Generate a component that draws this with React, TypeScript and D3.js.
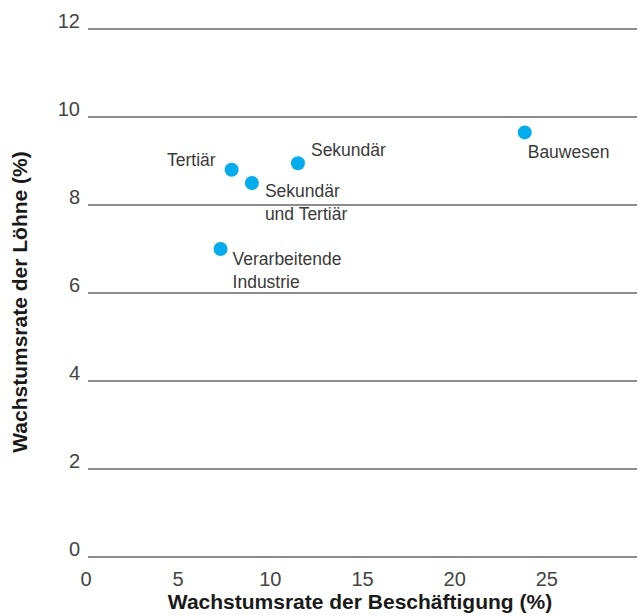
import React from "react";
import * as d3 from "d3";

const width = 640;
const height = 615;

const sectors = ["Tertiär", "Sekundär und Tertiär", "Sekundär", "Verarbeitende Industrie", "Bauwesen"];
const employmentGrowth = [7.9, 9.0, 11.5, 7.3, 23.8];
const wageGrowth = [8.8, 8.5, 8.95, 7.0, 9.65];
const yTicks = [0, 2, 4, 6, 8, 10, 12];
const xTicks = [0, 5, 10, 15, 20, 25];

// label placement relative to each point: [dx, dy, anchor]
const labelLines: string[][] = [["Tertiär"], ["Sekundär", "und Tertiär"], ["Sekundär"], ["Verarbeitende", "Industrie"], ["Bauwesen"]];
const labelPos: [number, number, string][] = [
  [-16, -4, "end"],
  [13, 14, "start"],
  [13, -7, "start"],
  [12, 16, "start"],
  [3, 26, "start"],
];

const font = "'Liberation Sans', Arial, Helvetica, sans-serif";

export default function App() {
  const x = d3.scaleLinear().domain([0, 30]).range([86, 639]);
  const y = d3.scaleLinear().domain([0, 12]).range([557, 29]);

  return (
    <svg width={width} height={height} style={{ position: "absolute", left: 0, top: 0 }} fontFamily={font}>
      <rect width={width} height={height} fill="#fff" />
      {yTicks.map((t) => (
        <g key={t}>
          <line x1={88} x2={637} y1={y(t)} y2={y(t)} stroke="#1a1a1a" strokeWidth={1} />
          <text x={80} y={y(t) - 1} textAnchor="end" fontSize={20} fill="#444">{t}</text>
        </g>
      ))}
      {xTicks.map((t) => (
        <text key={t} x={x(t)} y={586} textAnchor="middle" fontSize={20} fill="#444">{t}</text>
      ))}
      {sectors.map((s, i) => {
        const cx = x(employmentGrowth[i]);
        const cy = y(wageGrowth[i]);
        const [dx, dy, anchor] = labelPos[i];
        return (
          <g key={s}>
            <circle cx={cx} cy={cy} r={7} fill="#00aeef" />
            <text x={cx + dx} y={cy + dy} textAnchor={anchor as any} fontSize={17.5} fill="#3a3a3a">
              {labelLines[i].map((l, j) => (
                <tspan key={j} x={cx + dx} dy={j === 0 ? 0 : 23}>{l}</tspan>
              ))}
            </text>
          </g>
        );
      })}
      <text x={360} y={609} textAnchor="middle" fontSize={21} fontWeight="bold" fill="#1a1a1a">
        Wachstumsrate der Beschäftigung (%)
      </text>
      <text transform="translate(27,302) rotate(-90)" textAnchor="middle" fontSize={21} fontWeight="bold" fill="#1a1a1a">
        Wachstumsrate der Löhne (%)
      </text>
    </svg>
  );
}
